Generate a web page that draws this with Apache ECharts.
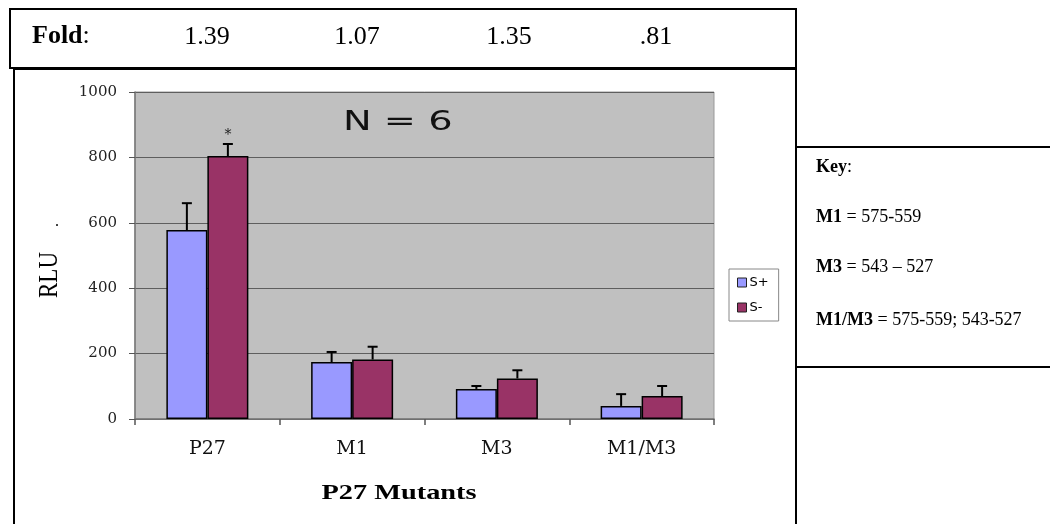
<!DOCTYPE html>
<html>
<head>
<meta charset="utf-8">
<script src="https://cdn.jsdelivr.net/npm/echarts@6/dist/echarts.min.js"></script>
<style>
html,body{margin:0;padding:0;background:#fff;}
#chart{width:1050px;height:524px;}
</style>
</head>
<body>
<div id="chart"></div>
<script>
var categories = ['P27', 'M1', 'M3', 'M1/M3'];
var seriesNames = ['S+', 'S-'];
var sPlus = [578, 174, 92, 40];
var sPlusErr = [82, 31, 9, 36];
var sMinus = [804, 182, 124, 70];
var sMinusErr = [37, 39, 25, 31];
var significance = ['*', '', '', ''];
var foldLabel = 'Fold';
var foldValues = ['1.39', '1.07', '1.35', '.81'];
var yTicks = [0, 200, 400, 600, 800, 1000];
var keyLines = [
  ['Key', ':'],
  ['M1', ' = 575-559'],
  ['M3', ' = 543 \u2013 527'],
  ['M1/M3', ' = 575-559; 543-527']
];
var yAxisTitle = 'RLU';
var xAxisTitle = 'P27 Mutants';
var nText = 'N = 6';

var colors = ['#9999FF', '#993366'];
var BAR_W = 41;

var chart = echarts.init(document.getElementById('chart'), null, {renderer: 'canvas'});

function errData(vals, errs) {
  return vals.map(function (v, i) { return [i, v, v + errs[i]]; });
}

function makeErrRender(offsetSign, withStar) {
  return function (params, api) {
    var idx = api.value(0);
    var base = api.coord([idx, api.value(1)]);
    var top = api.coord([idx, api.value(2)]);
    var x = base[0] + offsetSign * BAR_W / 2;
    var children = [
      {type: 'line', shape: {x1: x, y1: base[1], x2: x, y2: top[1]}, style: {stroke: '#000', lineWidth: 2}},
      {type: 'line', shape: {x1: x - 5, y1: top[1], x2: x + 5, y2: top[1]}, style: {stroke: '#000', lineWidth: 2}}
    ];
    var s = withStar ? significance[idx] : '';
    if (s) {
      children.push({type: 'text', x: x, y: top[1] - 9, style: {text: s, fill: '#222', font: '14px "DejaVu Serif"', align: 'center', verticalAlign: 'middle'}});
    }
    return {type: 'group', children: children};
  };
}

var keyYs = [167, 217, 267, 320];
var keyGraphics = keyLines.map(function (kl, i) {
  return {
    type: 'text', x: 816, y: keyYs[i], z: 10,
    style: {
      text: '{b|' + kl[0] + '}{r|' + kl[1] + '}',
      verticalAlign: 'middle',
      rich: {
        b: {font: 'bold 18px "Liberation Serif"', fill: '#000'},
        r: {font: '18px "Liberation Serif"', fill: '#000'}
      }
    }
  };
});

var foldXs = [207, 357, 509, 656];
var foldGraphics = foldValues.map(function (v, i) {
  return {type: 'text', x: foldXs[i], y: 37, z: 10,
    style: {text: v, font: '26px "Liberation Serif"', fill: '#000', align: 'center', verticalAlign: 'middle'}};
});

var option = {
  animation: false,
  backgroundColor: '#fff',
  color: colors,
  grid: {left: 135, right: 336, top: 92, bottom: 105, show: true, backgroundColor: '#c0c0c0', borderColor: '#999', borderWidth: 1, containLabel: false},
  legend: {
    orient: 'vertical', left: 729, top: 269,
    data: seriesNames,
    itemWidth: 9, itemHeight: 9, itemGap: 12,
    icon: 'rect',
    backgroundColor: '#fff', borderColor: '#888', borderWidth: 1,
    padding: [7, 10, 7, 8],
    textStyle: {fontFamily: 'DejaVu Sans', fontSize: 13, color: '#000', padding: [0, 0, 0, -2]},
    itemStyle: {borderColor: '#222', borderWidth: 1}
  },
  xAxis: {
    type: 'category', data: categories,
    axisLine: {lineStyle: {color: '#777', width: 1.5}},
    axisTick: {show: true, length: 6, lineStyle: {color: '#555', width: 1.5}},
    axisLabel: {fontFamily: 'DejaVu Serif', fontSize: 19, color: '#111', margin: 21}
  },
  yAxis: {
    type: 'value', min: yTicks[0], max: yTicks[yTicks.length - 1], interval: yTicks[1] - yTicks[0],
    axisLine: {show: true, lineStyle: {color: '#777', width: 1.5}},
    axisTick: {show: true, length: 6, lineStyle: {color: '#555'}},
    axisLabel: {fontFamily: 'DejaVu Serif', fontSize: 15, color: '#222', margin: 18,
      formatter: function (v) { return String(v); }},
    splitLine: {lineStyle: {color: '#5e5e5e', width: 1.2}}
  },
  graphic: [
    {type: 'rect', shape: {x: 10, y: 9, width: 786, height: 59}, style: {fill: 'none', stroke: '#000', lineWidth: 2}, z: 5},
    {type: 'rect', shape: {x: 14, y: 69, width: 782, height: 480}, style: {fill: 'none', stroke: '#000', lineWidth: 2}, z: 5},
    {type: 'rect', shape: {x: 796, y: 147, width: 280, height: 220}, style: {fill: '#fff', stroke: '#000', lineWidth: 2}, z: 5},
    {type: 'text', x: 32, y: 36, z: 10,
      style: {text: '{b|' + foldLabel + '}{r|:}', verticalAlign: 'middle', rich: {b: {font: 'bold 26px "Liberation Serif"', fill: '#000'}, r: {font: '26px "Liberation Serif"', fill: '#000'}}}},
    {type: 'text', x: 50, y: 275, rotation: Math.PI / 2, scaleY: 1.2, z: 10,
      style: {text: yAxisTitle, font: '23px "Liberation Serif"', fill: '#000', align: 'center', verticalAlign: 'middle'}},
    {type: 'text', x: 57, y: 222, z: 10,
      style: {text: '.', font: '16px "Liberation Serif"', fill: '#000', align: 'center', verticalAlign: 'middle'}},
    {type: 'text', x: 399, y: 494, scaleX: 1.35, z: 10,
      style: {text: xAxisTitle, font: 'bold 21px "Liberation Serif"', fill: '#000', align: 'center', verticalAlign: 'middle'}},
    {type: 'text', x: 343, y: 123, scaleX: 1.42, z: 10,
      style: {text: nText, font: '27px "DejaVu Sans"', fill: '#111', align: 'left', verticalAlign: 'middle'}}
  ].concat(foldGraphics).concat(keyGraphics),
  series: [
    {name: seriesNames[0], type: 'bar', data: sPlus, barWidth: BAR_W, barGap: '0%',
      itemStyle: {color: colors[0], borderColor: '#000', borderWidth: 1.5}},
    {name: seriesNames[1], type: 'bar', data: sMinus, barWidth: BAR_W, barGap: '0%',
      itemStyle: {color: colors[1], borderColor: '#000', borderWidth: 1.5}},
    {type: 'custom', renderItem: makeErrRender(-1, false), data: errData(sPlus, sPlusErr), encode: {x: 0, y: [1, 2]}, z: 5, silent: true},
    {type: 'custom', renderItem: makeErrRender(1, true), data: errData(sMinus, sMinusErr), encode: {x: 0, y: [1, 2]}, z: 5, silent: true}
  ]
};
chart.setOption(option);
</script>
</body>
</html>
